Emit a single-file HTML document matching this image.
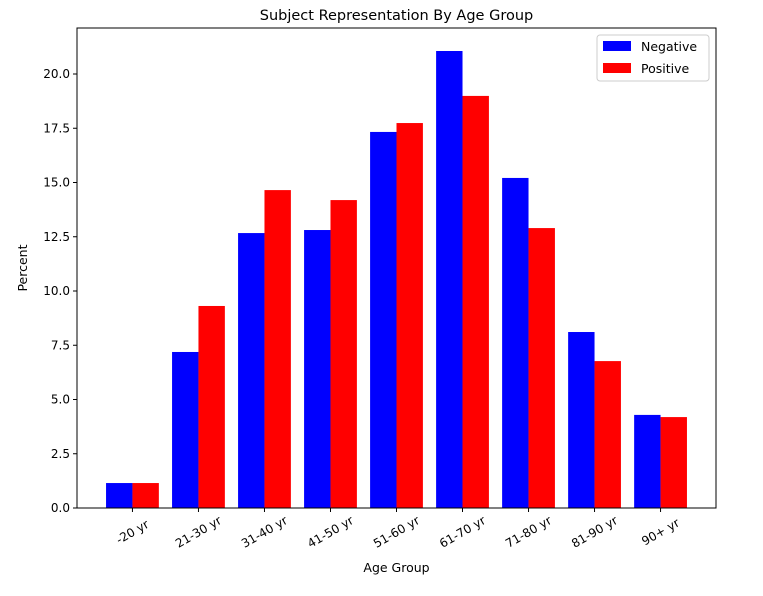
<!DOCTYPE html>
<html><head><meta charset="utf-8"><style>
body{margin:0;background:#fff;font-family:"Liberation Sans","DejaVu Sans",sans-serif}
svg text{font-family:"DejaVu Sans","Liberation Sans",sans-serif}
</style></head><body>
<svg id="chart" width="763" height="591"></svg>
<script>
const categories=["-20 yr","21-30 yr","31-40 yr","41-50 yr","51-60 yr","61-70 yr","71-80 yr","81-90 yr","90+ yr"];
const negativeValues=[1.15,7.19,12.67,12.81,17.33,21.06,15.21,8.11,4.29];
const positiveValues=[1.15,9.31,14.65,14.19,17.74,18.99,12.9,6.77,4.19];
const yTicks=[0,2.5,5,7.5,10,12.5,15,17.5,20];
const yTickLabels=["0.0","2.5","5.0","7.5","10.0","12.5","15.0","17.5","20.0"];

const NS="http://www.w3.org/2000/svg";
const svg=document.getElementById('chart');
const L=77,R=716,T=28,B=508;
const yMax=22.12, xMin=-0.84, xMax=8.84;
const y=v=>B-(v/yMax)*(B-T);
const x=v=>L+(v-xMin)/(xMax-xMin)*(R-L);
function el(tag,attrs,txt){const e=document.createElementNS(NS,tag);for(const k in attrs)e.setAttribute(k,attrs[k]);if(txt!=null)e.textContent=txt;svg.appendChild(e);return e;}
const bw=x(0.4)-x(0);
categories.forEach((c,i)=>{
  const n=el('rect',{x:x(i-0.4),y:y(negativeValues[i]),width:bw,height:B-y(negativeValues[i]),fill:'#0000ff'});
  
  
  const p=el('rect',{x:x(i),y:y(positiveValues[i]),width:bw,height:B-y(positiveValues[i]),fill:'#ff0000'});
  
  
  el('line',{x1:x(i),x2:x(i),y1:B,y2:B+4,stroke:'#000'});
  const tx=x(i), ty=B+28;
  const t=el('text',{x:tx,y:ty,'font-size':12,'text-anchor':'middle',transform:`rotate(-30 ${tx} ${ty-4})`},c);
  
  
});
yTicks.forEach((v,i)=>{
  el('line',{x1:L-4,x2:L,y1:y(v),y2:y(v),stroke:'#000'});
  const t=el('text',{x:L-7,y:y(v)+4,'font-size':12,'text-anchor':'end'},yTickLabels[i]);
  
  
});
const fr=el('rect',{x:L,y:T,width:R-L,height:B-T,fill:'none',stroke:'#000','stroke-width':1});


const ti=el('text',{x:(L+R)/2,y:20,'font-size':14.5,'text-anchor':'middle'},'Subject Representation By Age Group');


const xt=el('text',{x:(L+R)/2,y:572,'font-size':12.5,'text-anchor':'middle'},'Age Group');


const yt=el('text',{x:27,y:(T+B)/2,'font-size':12.5,'text-anchor':'middle',transform:`rotate(-90 27 ${(T+B)/2})`},'Percent');


const lg=el('rect',{x:597,y:35,width:112,height:46,fill:'#fff',stroke:'#ccc',rx:3});


el('rect',{x:603,y:41,width:28,height:10,fill:'#0000ff'});
const l1=el('text',{x:641,y:51,'font-size':12.5},'Negative');


el('rect',{x:603,y:63,width:28,height:10,fill:'#ff0000'});
const l2=el('text',{x:641,y:73,'font-size':12.5},'Positive');


</script>
</body></html>
